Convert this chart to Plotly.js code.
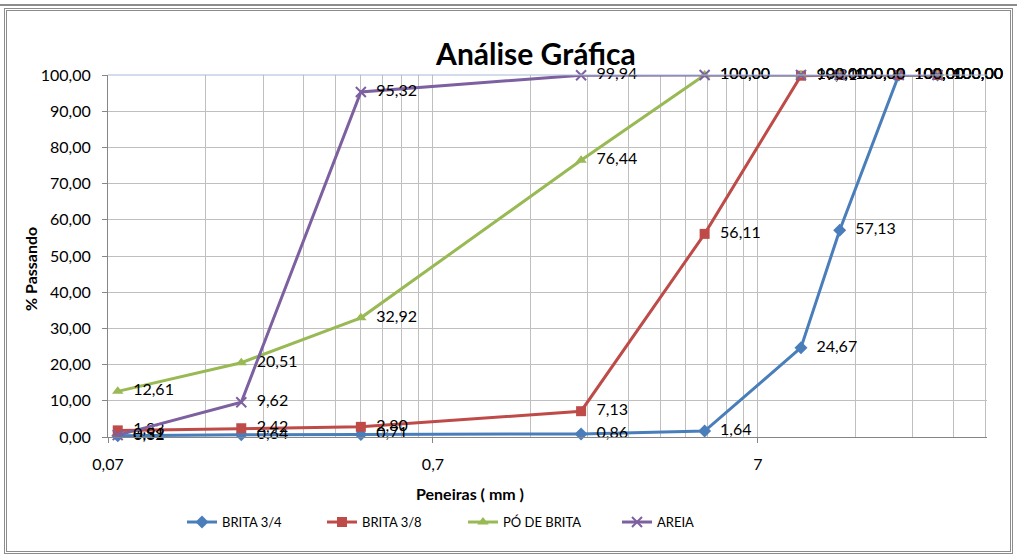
<!DOCTYPE html>
<html>
<head>
<meta charset="utf-8">
<script src="https://cdn.plot.ly/plotly-3.0.1.min.js"></script>
<style>
  html, body { margin: 0; padding: 0; background: #ffffff; }
  #wrap { position: relative; width: 1017px; height: 560px; overflow: hidden; }
  #chart { position: absolute; left: 0; top: 0; width: 1017px; height: 560px; }
  #frame { position: absolute; left: 4px; top: 8px; width: 1009px; height: 546px;
           border: 3px double #8c8c8c; pointer-events: none; box-sizing: border-box; }
  #strip { position: absolute; left: 0; top: 0; width: 1017px; height: 4px;
           border-bottom: 2px solid #8c8c8c; pointer-events: none; }
</style>
</head>
<body>
<div id="wrap">
  <div id="chart"></div>
  <div id="strip"></div>
  <div id="frame"></div>
</div>
<script>
// Sieve openings (mm)
var peneiras = [0.075, 0.18, 0.42, 2.0, 4.8, 9.5, 12.5, 19, 25];

// % passing for each material
var brita34   = [0.32, 0.64, 0.71, 0.86, 1.64, 24.67, 57.13, 100.00, 100.00];
var brita38   = [1.83, 2.42, 2.80, 7.13, 56.11, 99.81, 100.00, 100.00, 100.00];
var poDeBrita = [12.61, 20.51, 32.92, 76.44, 100.00, 100.00, 100.00, 100.00, 100.00];
var areia     = [0.51, 9.62, 95.32, 99.94, 100.00, 100.00, 100.00, 100.00, 100.00];

var seriesNames = ['BRITA 3/4', 'BRITA 3/8', 'PÓ DE BRITA', 'AREIA'];

// Axis ticks
var xTickVals = [0.07, 0.7, 7];
var xTickText = ['0,07', '0,7', '7'];
var xGridVals = [0.14, 0.21, 0.28, 0.35, 0.42, 0.49, 0.56, 0.63,
                 1.4, 2.1, 2.8, 3.5, 4.2, 4.9, 5.6, 6.3,
                 14, 21, 28, 35];

var FONT = 'Lato, "Open Sans", "Liberation Sans", sans-serif';
var PLOT_L = 108, PLOT_W = 879;
function px2x(p) { return (p - PLOT_L) / PLOT_W; }

var legendStarts = [182, 322, 463, 617];

function mk(i, y, color, symbol, size) {
  var marker = { color: color, size: size, symbol: symbol };
  if (symbol === 'x-thin') marker.line = { color: color, width: 2 };
  return {
    type: 'scatter', mode: 'lines+markers+text',
    x: peneiras, y: y, name: seriesNames[i],
    legend: i === 0 ? 'legend' : 'legend' + (i + 1),
    line: { color: color, width: 3 },
    marker: marker,
    texttemplate: '\u00a0\u00a0%{y:.2f}',
    textposition: 'middle right',
    textfont: { family: FONT, size: 16, color: '#000000' },
    cliponaxis: false
  };
}

var data = [
  mk(0, brita34, '#4a7ebb', 'diamond', 10),
  mk(1, brita38, '#be4b48', 'square', 10),
  mk(2, poDeBrita, '#98b954', 'triangle-up', 10),
  mk(3, areia, '#7d60a0', 'x-thin', 10)
];

function legendAt(p) {
  return {
    orientation: 'h', x: px2x(p), xanchor: 'left', y: -0.235, yanchor: 'middle',
    font: { family: FONT, size: 13 }, itemwidth: 30, bgcolor: 'rgba(0,0,0,0)'
  };
}

var layout = {
  width: 1017, height: 560,
  paper_bgcolor: '#ffffff', plot_bgcolor: '#ffffff',
  separators: ',.',
  margin: { l: 108, r: 30, t: 75, b: 123 },
  showlegend: true,
  font: { family: FONT, size: 15, color: '#000000' },
  title: { text: '<b>Análise Gráfica</b>', x: 0.527, xanchor: 'center', y: 0.902, yanchor: 'middle',
           font: { family: FONT, size: 30, color: '#000000' } },
  xaxis: {
    type: 'log',
    range: [Math.log10(0.07), Math.log10(35.5)],
    tickmode: 'array', tickvals: xTickVals, ticktext: xTickText,
    ticks: 'outside', ticklen: 5, tickcolor: '#868686',
    ticklabelstandoff: 8,
    showgrid: true, gridcolor: '#bfbfbf', gridwidth: 1,
    minor: { tickmode: 'array', tickvals: xGridVals, showgrid: true, gridcolor: '#bfbfbf', gridwidth: 1, ticks: '' },
    showline: true, linecolor: '#868686', linewidth: 1,
    zeroline: false,
    tickfont: { family: FONT, size: 16 }
  },
  yaxis: {
    range: [0, 100], dtick: 10, tick0: 0,
    tickformat: '.2f',
    ticks: 'outside', ticklen: 5, tickcolor: '#868686',
    ticklabelstandoff: 8,
    showgrid: true, gridcolor: '#bfbfbf', gridwidth: 1,
    showline: true, linecolor: '#868686', linewidth: 1,
    zeroline: false,
    tickfont: { family: FONT, size: 16 }
  },
  legend: legendAt(legendStarts[0]),
  legend2: legendAt(legendStarts[1]),
  legend3: legendAt(legendStarts[2]),
  legend4: legendAt(legendStarts[3]),
  annotations: [
    { text: '<b>Peneiras ( mm )</b>', xref: 'paper', yref: 'paper',
      x: px2x(470), y: (437 - 493) / 362, xanchor: 'center', yanchor: 'middle',
      showarrow: false, font: { family: FONT, size: 16 } },
    { text: '<b>% Passando</b>', xref: 'paper', yref: 'paper',
      x: px2x(30), y: (437 - 269) / 362, xanchor: 'center', yanchor: 'middle',
      textangle: -90, showarrow: false, font: { family: FONT, size: 16 } }
  ],
  shapes: [
    { type: 'line', xref: 'paper', yref: 'paper', x0: 0, x1: 1, y0: 1, y1: 1,
      line: { color: '#a7b9d6', width: 1 } }
  ]
};

Plotly.newPlot('chart', data, layout, { displayModeBar: false, staticPlot: true });
</script>
</body>
</html>
